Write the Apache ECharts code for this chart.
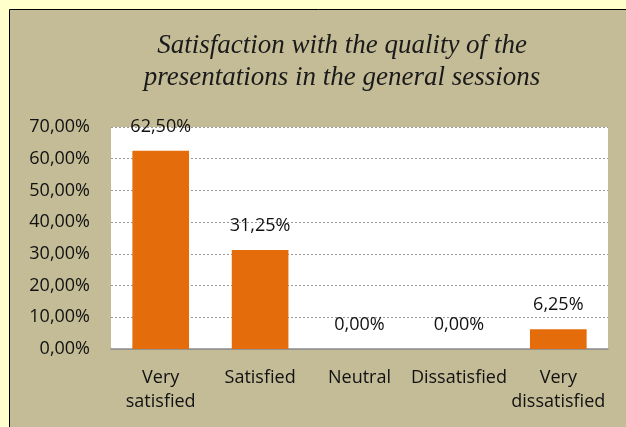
<!DOCTYPE html>
<html>
<head>
<meta charset="utf-8">
<script src="https://cdn.jsdelivr.net/npm/echarts@6/dist/echarts.min.js"></script>
<style>
  html, body { margin: 0; padding: 0; background: #FFFFCC; }
  #chart { width: 626px; height: 427px; }
</style>
</head>
<body>
<div id="chart"></div>
<script>
var categories = ['Very\nsatisfied', 'Satisfied', 'Neutral', 'Dissatisfied', 'Very\ndissatisfied'];
var values = [62.5, 31.25, 0, 0, 6.25];
var yTicks = [0, 10, 20, 30, 40, 50, 60, 70];

function pct(v) {
  return Number(v).toFixed(2).replace('.', ',') + '%';
}

var chart = echarts.init(document.getElementById('chart'));
chart.setOption({
  backgroundColor: '#FFFFCC',
  animation: false,
  graphic: [{
    type: 'rect',
    z: -10,
    shape: { x: 9.5, y: 9.5, width: 640, height: 440 },
    style: { fill: '#C4BC97', stroke: '#000', lineWidth: 1 }
  }],
  title: {
    text: 'Satisfaction with the quality of the\npresentations in the general sessions',
    left: 337,
    textAlign: 'center',
    top: 25,
    textStyle: {
      fontFamily: 'Liberation Serif',
      fontStyle: 'italic',
      fontWeight: 'normal',
      fontSize: 27,
      lineHeight: 32,
      color: '#1a1a1a'
    }
  },
  grid: {
    left: 111,
    right: 18,
    top: 127,
    bottom: 78,
    show: true,
    backgroundColor: '#fff',
    borderWidth: 0
  },
  xAxis: {
    type: 'category',
    data: categories,
    axisTick: { show: false },
    axisLine: { lineStyle: { color: '#8c8c8c', width: 1.5 } },
    axisLabel: {
      color: '#111',
      fontFamily: 'Open Sans',
      fontSize: 18,
      lineHeight: 24,
      margin: 17,
      interval: 0
    }
  },
  yAxis: {
    type: 'value',
    min: yTicks[0],
    max: yTicks[yTicks.length - 1],
    interval: 10,
    axisLine: { show: false },
    axisTick: { show: false },
    axisLabel: {
      formatter: pct,
      color: '#111',
      fontFamily: 'Open Sans',
      fontSize: 18,
      margin: 21
    },
    splitLine: {
      lineStyle: { color: '#999', type: [2, 2], width: 1 }
    }
  },
  series: [{
    type: 'bar',
    data: values,
    barWidth: '57%',
    itemStyle: { color: '#E46C0A' },
    label: {
      show: true,
      position: 'top',
      distance: 15,
      formatter: function (p) { return pct(p.value); },
      color: '#111',
      fontFamily: 'Open Sans',
      fontSize: 18
    }
  }]
});
</script>
</body>
</html>
